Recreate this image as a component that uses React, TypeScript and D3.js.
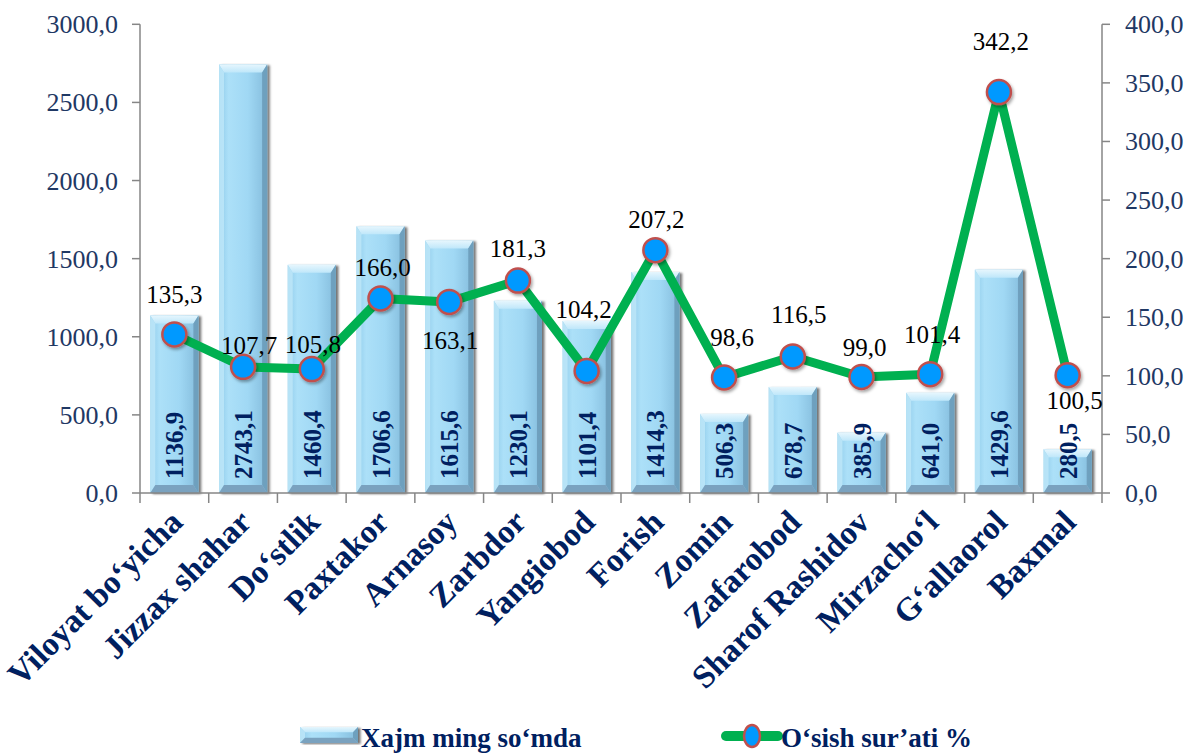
import React from 'react';
import * as d3 from 'd3';

// chart data
const categories = [
  'Viloyat bo\u2018yicha', 'Jizzax shahar', 'Do\u2018stlik', 'Paxtakor', 'Arnasoy', 'Zarbdor', 'Yangiobod',
  'Forish', 'Zomin', 'Zafarobod', 'Sharof Rashidov', 'Mirzacho\u2018l', 'G\u2018allaorol', 'Baxmal',
];
const volume = [1136.9, 2743.1, 1460.4, 1706.6, 1615.6, 1230.1, 1101.4, 1414.3, 506.3, 678.7, 385.9, 641.0, 1429.6, 280.5];
const growth = [135.3, 107.7, 105.8, 166.0, 163.1, 181.3, 104.2, 207.2, 98.6, 116.5, 99.0, 101.4, 342.2, 100.5];
const leftTicks = [0, 500, 1000, 1500, 2000, 2500, 3000];
const rightTicks = [0, 50, 100, 150, 200, 250, 300, 350, 400];
const volumeName = 'Xajm ming so\u2018mda';
const growthName = 'O\u2018sish sur\u2019ati %';

// where each growth label sits relative to its marker (layout only)
const growthLabelShift = [
  [0, -31], [6, -13], [1, -16], [2, -22], [1, 47], [0, -24], [-3, -53],
  [1, -22], [8, -31], [6, -33], [3, -21], [2, -31], [2, -42], [7, 34],
];

const fmt = (v: number) => v.toFixed(1).replace('.', ',');

const W = 1189, H = 753;
const margin = { left: 140, right: 1102, top: 24.3, bottom: 493 };
const serif = '"Liberation Serif", "Times New Roman", serif';
const navy = '#002060';
const tickColor = '#1F3864';
const axisColor = '#868686';

function Bar({ x, y, w, h }: { x: number; y: number; w: number; h: number }) {
  const b = Math.min(8, h / 3);
  const s = 5;
  return (
    <g filter="url(#barShadow)">
      <rect x={x} y={y} width={w} height={h} fill="url(#barBody)" />
      {/* top bevel */}
      <path d={`M${x},${y}L${x + w},${y}L${x + w - s},${y + b}L${x + s},${y + b}Z`} fill="url(#barTop)" />
      {/* left bevel */}
      <path d={`M${x},${y}L${x + s},${y + b}L${x + s},${y + h - b}L${x},${y + h}Z`} fill="#bde6f8" opacity={0.85} />
      {/* right bevel */}
      <path d={`M${x + w},${y}L${x + w - s},${y + b}L${x + w - s},${y + h - b}L${x + w},${y + h}Z`} fill="#6b9cba" opacity={0.9} />
      {/* bottom bevel */}
      <path d={`M${x},${y + h}L${x + s},${y + h - b}L${x + w - s},${y + h - b}L${x + w},${y + h}Z`} fill="#7aa2bf" />
    </g>
  );
}

export default function App() {
  const x = d3.scaleBand<string>()
    .domain(categories)
    .range([margin.left, margin.right])
    .paddingInner(0.3)
    .paddingOuter(0.15);
  const yL = d3.scaleLinear().domain([0, 3000]).range([margin.bottom, margin.top]);
  const yR = d3.scaleLinear().domain([0, 400]).range([margin.bottom, margin.top]);
  const step = x.step();
  const bw = x.bandwidth();
  const cx = (c: string) => (x(c) as number) + bw / 2;

  const linePath = d3.line<number>()
    .x((_, i) => cx(categories[i]))
    .y((d) => yR(d))(growth) as string;

  return (
    <svg width={W} height={H} style={{ position: 'absolute', left: 0, top: 0, background: '#fff' }}
      fontFamily={serif}>
      <defs>
        <linearGradient id="barBody" x1="0" x2="1" y1="0" y2="0">
          <stop offset="0" stopColor="#8fcbea" />
          <stop offset="0.2" stopColor="#ace0f8" />
          <stop offset="0.6" stopColor="#a0d8f4" />
          <stop offset="1" stopColor="#84bcdc" />
        </linearGradient>
        <linearGradient id="barTop" x1="0" x2="0" y1="0" y2="1">
          <stop offset="0" stopColor="#e6f6fd" />
          <stop offset="1" stopColor="#bfe7fa" />
        </linearGradient>
        <filter id="barShadow" x="-20%" y="-5%" width="150%" height="115%">
          <feDropShadow dx="2.5" dy="1" stdDeviation="1.2" floodColor="#000" floodOpacity="0.55" />
        </filter>
        <filter id="dotShadow" x="-50%" y="-50%" width="200%" height="200%">
          <feDropShadow dx="1.5" dy="2" stdDeviation="1.5" floodColor="#000" floodOpacity="0.35" />
        </filter>
      </defs>

      {/* bars */}
      {categories.map((c, i) => (
        <Bar key={c} x={x(c) as number} y={yL(volume[i])} w={bw} h={yL(0) - yL(volume[i])} />
      ))}

      {/* axes */}
      <g stroke={axisColor} strokeWidth={1.5} fill="none">
        <line x1={margin.left} x2={margin.left} y1={margin.top} y2={margin.bottom} />
        <line x1={margin.right} x2={margin.right} y1={margin.top} y2={margin.bottom} />
        <line x1={margin.left} x2={margin.right} y1={margin.bottom} y2={margin.bottom} />
        {leftTicks.map((t) => (
          <line key={'l' + t} x1={margin.left - 8} x2={margin.left} y1={yL(t)} y2={yL(t)} />
        ))}
        {rightTicks.map((t) => (
          <line key={'r' + t} x1={margin.right} x2={margin.right + 8} y1={yR(t)} y2={yR(t)} />
        ))}
        {d3.range(categories.length + 1).map((i) => (
          <line key={'c' + i} x1={margin.left + i * step} x2={margin.left + i * step}
            y1={margin.bottom} y2={margin.bottom + 10} />
        ))}
      </g>

      {/* tick labels */}
      <g fontSize={26} fill={tickColor}>
        {leftTicks.map((t) => (
          <text key={'lt' + t} x={118} y={yL(t) + 9} textAnchor="end">{fmt(t)}</text>
        ))}
        {rightTicks.map((t) => (
          <text key={'rt' + t} x={1125} y={yR(t) + 9} textAnchor="start">{fmt(t)}</text>
        ))}
      </g>

      {/* category labels */}
      <g fontSize={33} fontWeight="bold" fill={navy}>
        {categories.map((c) => (
          <text key={'cat' + c} textAnchor="end"
            transform={`translate(${cx(c) + 10},${524}) rotate(-45)`}>{c}</text>
        ))}
      </g>

      {/* bar value labels */}
      <g fontSize={25} fontWeight="bold" fill={navy}>
        {categories.map((c, i) => (
          <text key={'bv' + c} textAnchor="start"
            transform={`translate(${cx(c) + 9},${479}) rotate(-90)`}>{fmt(volume[i])}</text>
        ))}
      </g>

      {/* growth line */}
      <path d={linePath} fill="none" stroke="#00B050" strokeWidth={9} strokeLinejoin="round" />
      {categories.map((c, i) => (
        <circle key={'dot' + c} cx={cx(c)} cy={yR(growth[i])} r={12}
          fill="#0099FF" stroke="#C0504D" strokeWidth={2.5} filter="url(#dotShadow)" />
      ))}
      <g fontSize={25} fill="#000">
        {categories.map((c, i) => (
          <text key={'gl' + c} textAnchor="middle"
            x={cx(c) + growthLabelShift[i][0]} y={yR(growth[i]) + growthLabelShift[i][1]}>{fmt(growth[i])}</text>
        ))}
      </g>

      {/* legend */}
      <g>
        <Bar x={300} y={727} w={58} h={16} />
        <text x={361} y={747} fontSize={27} fontWeight="bold" fill={navy}>{volumeName}</text>
        <line x1={726} x2={778} y1={736} y2={736} stroke="#00B050" strokeWidth={10} strokeLinecap="round" />
        <ellipse cx={752} cy={736} rx={8} ry={11} fill="#0099FF" stroke="#C0504D" strokeWidth={2.5} />
        <text x={781} y={747} fontSize={27} fontWeight="bold" fill={navy}>{growthName}</text>
      </g>
    </svg>
  );
}
